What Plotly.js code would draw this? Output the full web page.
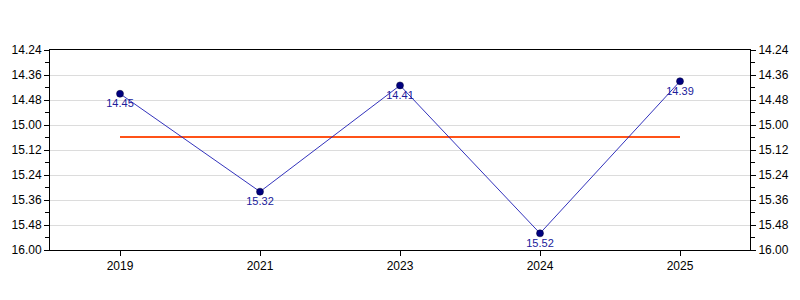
<!DOCTYPE html>
<html>
<head>
<meta charset="utf-8">
<script src="https://cdn.plot.ly/plotly-3.0.1.min.js"></script>
<style>html,body{margin:0;padding:0;background:#fff;}#chart{width:800px;height:300px;}</style>
</head>
<body>
<div id="chart"></div>
<script>
// Data (times written as minutes.seconds)
var years = ["2019", "2021", "2023", "2024", "2025"];
var times = ["14.45", "15.32", "14.41", "15.52", "14.39"];
var yTickLabels = ["14.24", "14.36", "14.48", "15.00", "15.12", "15.24", "15.36", "15.48", "16.00"];

function toSec(s) {
  var p = s.split(".");
  return parseInt(p[0], 10) * 60 + parseInt(p[1], 10);
}
var secs = times.map(toSec);
var tickVals = yTickLabels.map(toSec);
var mean = secs.reduce(function(a, b) { return a + b; }, 0) / secs.length;
var minorVals = [];
for (var i = 0; i < tickVals.length - 1; i++) minorVals.push((tickVals[i] + tickVals[i + 1]) / 2);
var yRange = [tickVals[tickVals.length - 1], tickVals[0]];

var font = "Liberation Sans, Arial, sans-serif";

var traces = [
  {
    x: [years[0], years[years.length - 1]],
    y: [mean, mean],
    type: "scatter", mode: "lines",
    line: {color: "#FF5218", width: 2},
    hoverinfo: "skip", showlegend: false
  },
  {
    x: years, y: secs, text: times,
    type: "scatter", mode: "lines+markers+text",
    textposition: "bottom center",
    textfont: {family: font, size: 11, color: "#20209a"},
    line: {color: "#1c1cb4", width: 0.9},
    marker: {color: "#000080", size: 7, line: {color: "#000030", width: 0.5}},
    showlegend: false
  },
  {
    x: years, y: secs, yaxis: "y2",
    type: "scatter", mode: "markers",
    marker: {opacity: 0}, hoverinfo: "skip", showlegend: false
  }
];

var yBase = {
  range: yRange,
  tickmode: "array", tickvals: tickVals, ticktext: yTickLabels,
  ticks: "outside", ticklen: 5, tickcolor: "#000", tickwidth: 1,
  minor: {tickmode: "array", tickvals: minorVals, ticks: "outside", ticklen: 4, tickcolor: "#000", showgrid: false},
  showline: true, linecolor: "#000", linewidth: 1,
  tickfont: {family: font, size: 12, color: "#000"},
  zeroline: false
};

var layout = {
  width: 800, height: 300,
  margin: {l: 50, r: 50, t: 50, b: 50},
  paper_bgcolor: "#fff", plot_bgcolor: "#fff",
  font: {family: font, size: 12, color: "#000"},
  showlegend: false,
  xaxis: {
    type: "category", categoryorder: "array", categoryarray: years,
    range: [-0.5, years.length - 0.5],
    showline: true, linecolor: "#000", linewidth: 1, mirror: true,
    ticks: "outside", ticklen: 5, tickcolor: "#000",
    showgrid: false, zeroline: false,
    tickfont: {family: font, size: 12, color: "#000"}
  },
  yaxis: Object.assign({}, yBase, {showgrid: true, gridcolor: "#dcdcdc", gridwidth: 1, side: "left"}),
  yaxis2: Object.assign({}, yBase, {showgrid: false, overlaying: "y", side: "right"})
};

Plotly.newPlot("chart", traces, layout, {displayModeBar: false, staticPlot: true});
</script>
</body>
</html>
